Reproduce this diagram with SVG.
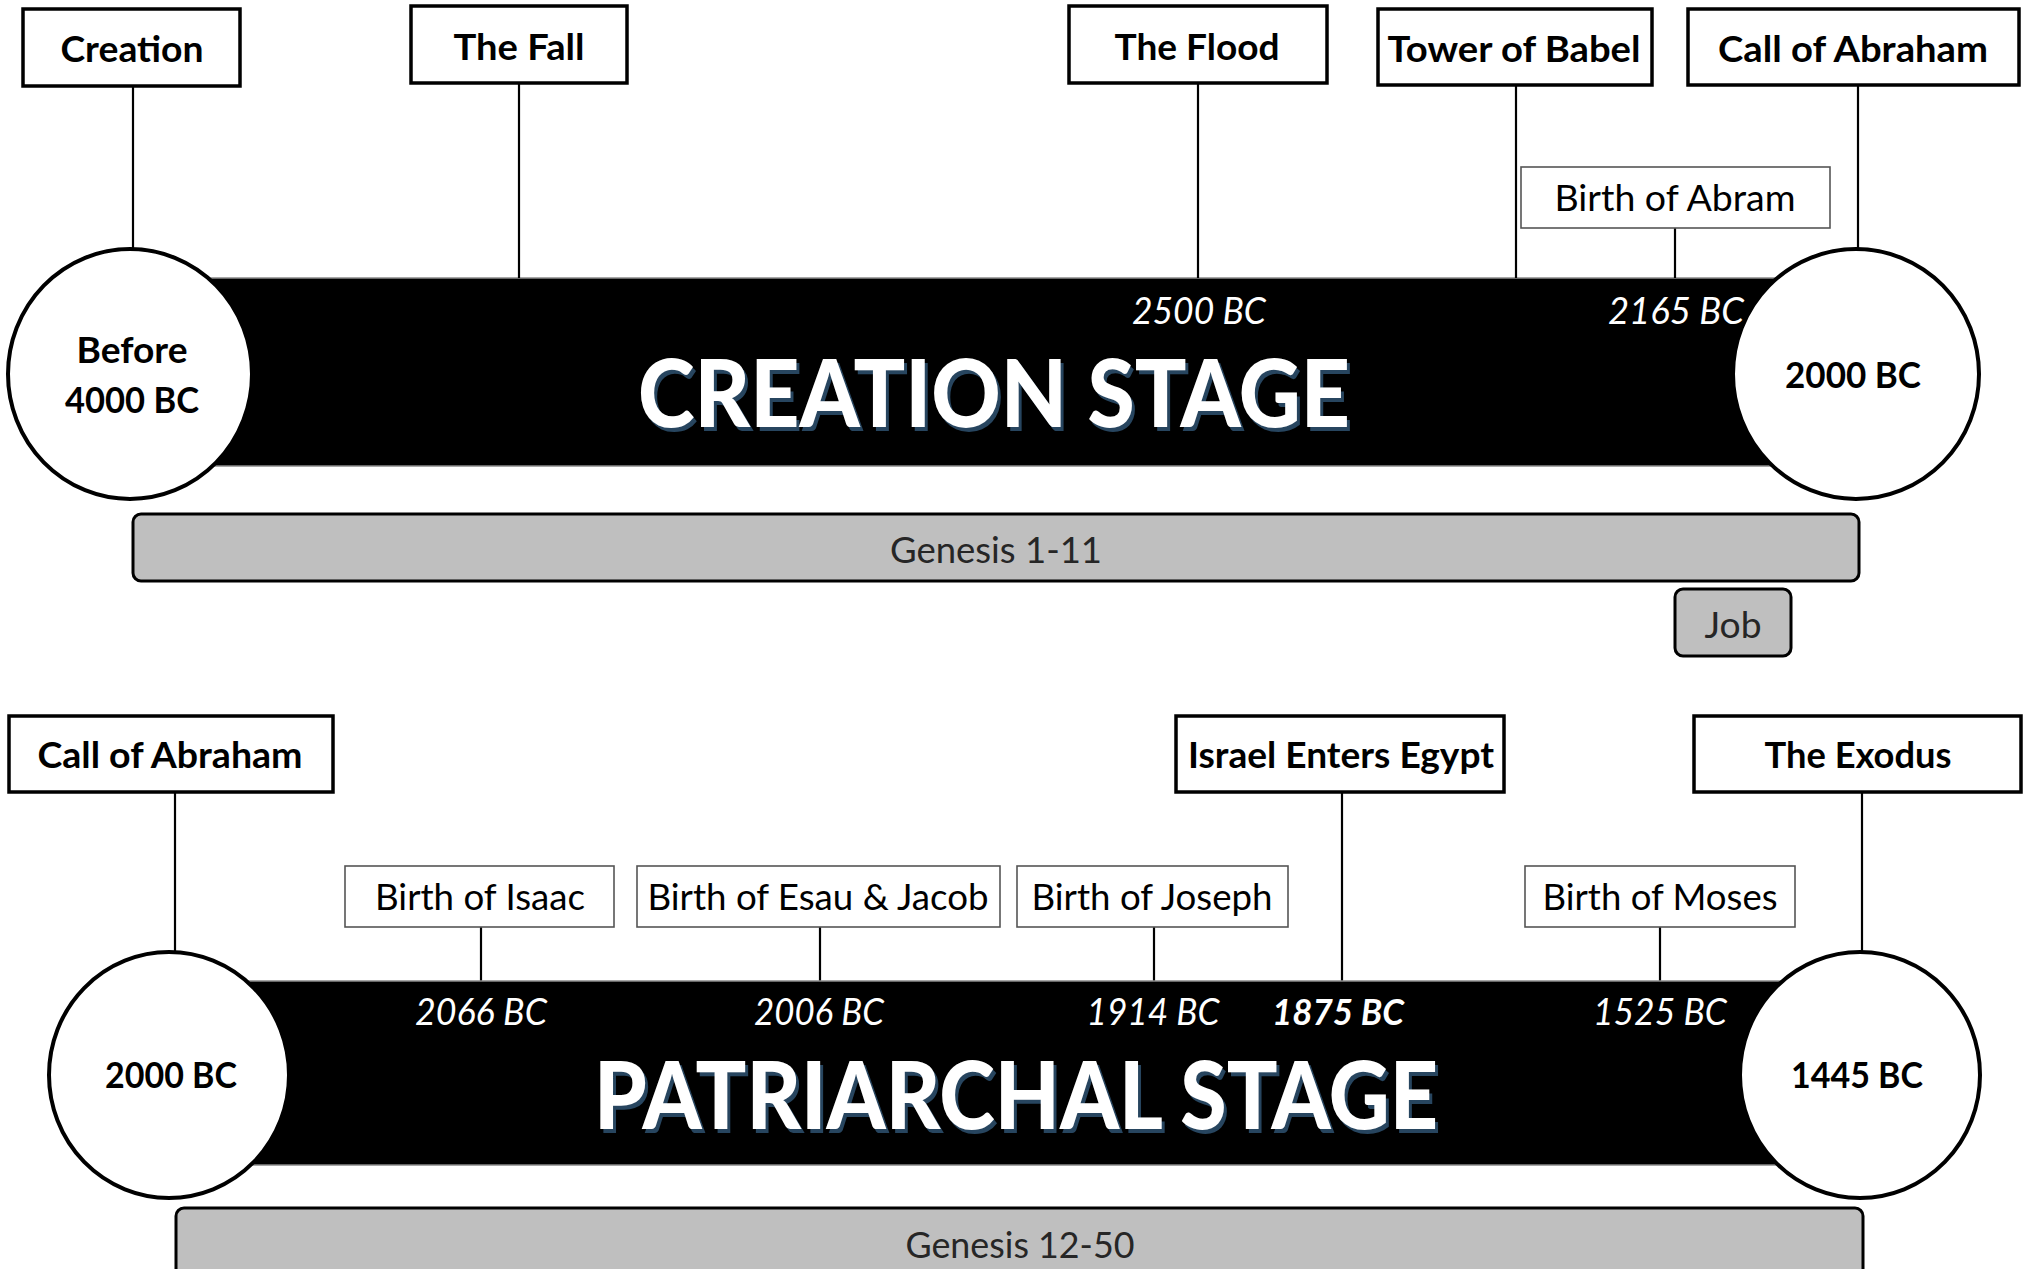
<svg xmlns="http://www.w3.org/2000/svg" width="2025" height="1269" viewBox="0 0 2025 1269">
<style>
.box{fill:#fff;stroke:#000;stroke-width:3.5}
.tbox{fill:#fff;stroke:#555;stroke-width:1.6}
.circ{fill:#fff;stroke:#000;stroke-width:4}
.bar{fill:#000;stroke:#8a8a8a;stroke-width:1.5}
.gbar{fill:#bfbfbf;stroke:#000;stroke-width:3}
.conn line{stroke:#000;stroke-width:2.2}
text{font-family:Lato,"Liberation Sans",sans-serif;text-anchor:middle;font-size:36px}
.lb{font-weight:bold;fill:#000}
.lr{font-weight:normal;fill:#000}
.gt{font-weight:normal;fill:#262626}
.dt{font-style:italic;fill:#fff}
.dtb{font-style:italic;font-weight:bold;fill:#fff}
.title{font-size:93px;font-weight:900;fill:#fff}
.shadow{font-size:93px;font-weight:900;fill:#27455f}
</style>

<!-- ===== Top: Creation stage ===== -->
<g id="creation-bar">
<rect class="bar" x="130" y="278" width="1726" height="188"/>
<text class="shadow" x="997" y="431" textLength="712" lengthAdjust="spacingAndGlyphs">CREATION STAGE</text>
<text class="title" x="994" y="427" textLength="712" lengthAdjust="spacingAndGlyphs">CREATION STAGE</text>
<text class="dt" x="1199" y="324" textLength="134" lengthAdjust="spacingAndGlyphs">2500 BC</text>
<text class="dt" x="1676" y="324" textLength="136" lengthAdjust="spacingAndGlyphs">2165 BC</text>
</g>

<g class="conn" id="connectors">
<line x1="133" y1="86" x2="133" y2="249"/>
<line x1="519" y1="83" x2="519" y2="278"/>
<line x1="1198" y1="83" x2="1198" y2="278"/>
<line x1="1516" y1="85" x2="1516" y2="278"/>
<line x1="1675" y1="228" x2="1675" y2="278"/>
<line x1="1858" y1="85" x2="1858" y2="250"/>
<line x1="175" y1="792" x2="175" y2="953"/>
<line x1="481" y1="927" x2="481" y2="981"/>
<line x1="820" y1="927" x2="820" y2="981"/>
<line x1="1154" y1="927" x2="1154" y2="981"/>
<line x1="1342" y1="792" x2="1342" y2="981"/>
<line x1="1660" y1="927" x2="1660" y2="981"/>
<line x1="1862" y1="792" x2="1862" y2="953"/>
</g>

<g id="circle-before-4000">
<ellipse class="circ" cx="130" cy="374" rx="122" ry="125"/>
<text class="lb" x="132" y="363" textLength="111" lengthAdjust="spacingAndGlyphs">Before</text>
<text class="lb" x="132" y="413" textLength="134" lengthAdjust="spacingAndGlyphs">4000 BC</text>
</g>
<g id="circle-2000-top">
<ellipse class="circ" cx="1856" cy="374" rx="123" ry="125"/>
<text class="lb" x="1853" y="388" textLength="136" lengthAdjust="spacingAndGlyphs">2000 BC</text>
</g>

<g id="node-creation">
<rect class="box" x="23" y="9" width="217" height="77"/>
<text class="lb" x="132" y="62" textLength="143" lengthAdjust="spacingAndGlyphs">Creation</text>
</g>
<g id="node-fall">
<rect class="box" x="411" y="6" width="216" height="77"/>
<text class="lb" x="519" y="60" textLength="131" lengthAdjust="spacingAndGlyphs">The Fall</text>
</g>
<g id="node-flood">
<rect class="box" x="1069" y="6" width="258" height="77"/>
<text class="lb" x="1197" y="60" textLength="165" lengthAdjust="spacingAndGlyphs">The Flood</text>
</g>
<g id="node-babel">
<rect class="box" x="1378" y="9" width="274" height="76"/>
<text class="lb" x="1514" y="62" textLength="253" lengthAdjust="spacingAndGlyphs">Tower of Babel</text>
</g>
<g id="node-call-top">
<rect class="box" x="1688" y="9" width="331" height="76"/>
<text class="lb" x="1853" y="62" textLength="270" lengthAdjust="spacingAndGlyphs">Call of Abraham</text>
</g>
<g id="node-abram">
<rect class="tbox" x="1521" y="167" width="309" height="61"/>
<text class="lr" x="1675" y="211" textLength="241" lengthAdjust="spacingAndGlyphs">Birth of Abram</text>
</g>

<g id="genesis-1-11">
<rect class="gbar" x="133" y="514" width="1726" height="67" rx="8"/>
<text class="gt" x="996" y="563" textLength="212" lengthAdjust="spacingAndGlyphs">Genesis 1-11</text>
</g>
<g id="job">
<rect class="gbar" x="1675" y="589" width="116" height="67" rx="8"/>
<text class="gt" x="1733" y="638" textLength="57" lengthAdjust="spacingAndGlyphs">Job</text>
</g>

<!-- ===== Bottom: Patriarchal stage ===== -->
<g id="patriarchal-bar">
<rect class="bar" x="169" y="981" width="1691" height="184"/>
<text class="shadow" x="1019" y="1133" textLength="844" lengthAdjust="spacingAndGlyphs">PATRIARCHAL STAGE</text>
<text class="title" x="1016" y="1129" textLength="844" lengthAdjust="spacingAndGlyphs">PATRIARCHAL STAGE</text>
<text class="dt" x="481" y="1025" textLength="132" lengthAdjust="spacingAndGlyphs">2066 BC</text>
<text class="dt" x="819" y="1025" textLength="130" lengthAdjust="spacingAndGlyphs">2006 BC</text>
<text class="dt" x="1153" y="1025" textLength="133" lengthAdjust="spacingAndGlyphs">1914 BC</text>
<text class="dtb" x="1338" y="1025" textLength="132" lengthAdjust="spacingAndGlyphs">1875 BC</text>
<text class="dt" x="1660" y="1025" textLength="134" lengthAdjust="spacingAndGlyphs">1525 BC</text>
</g>

<g id="circle-2000-bottom">
<ellipse class="circ" cx="169" cy="1075" rx="120" ry="123"/>
<text class="lb" x="171" y="1088" textLength="132" lengthAdjust="spacingAndGlyphs">2000 BC</text>
</g>
<g id="circle-1445">
<ellipse class="circ" cx="1860" cy="1075" rx="120" ry="123"/>
<text class="lb" x="1857" y="1088" textLength="132" lengthAdjust="spacingAndGlyphs">1445 BC</text>
</g>

<g id="node-call-bottom">
<rect class="box" x="9" y="716" width="324" height="76"/>
<text class="lb" x="170" y="768" textLength="265" lengthAdjust="spacingAndGlyphs">Call of Abraham</text>
</g>
<g id="node-israel-egypt">
<rect class="box" x="1176" y="716" width="328" height="76"/>
<text class="lb" x="1341" y="768" textLength="306" lengthAdjust="spacingAndGlyphs">Israel Enters Egypt</text>
</g>
<g id="node-exodus">
<rect class="box" x="1694" y="716" width="327" height="76"/>
<text class="lb" x="1858" y="768" textLength="187" lengthAdjust="spacingAndGlyphs">The Exodus</text>
</g>
<g id="node-isaac">
<rect class="tbox" x="345" y="866" width="269" height="61"/>
<text class="lr" x="480" y="910" textLength="210" lengthAdjust="spacingAndGlyphs">Birth of Isaac</text>
</g>
<g id="node-esau-jacob">
<rect class="tbox" x="637" y="866" width="363" height="61"/>
<text class="lr" x="818" y="910" textLength="341" lengthAdjust="spacingAndGlyphs">Birth of Esau &amp; Jacob</text>
</g>
<g id="node-joseph">
<rect class="tbox" x="1017" y="866" width="271" height="61"/>
<text class="lr" x="1152" y="910" textLength="241" lengthAdjust="spacingAndGlyphs">Birth of Joseph</text>
</g>
<g id="node-moses">
<rect class="tbox" x="1525" y="866" width="270" height="61"/>
<text class="lr" x="1660" y="910" textLength="235" lengthAdjust="spacingAndGlyphs">Birth of Moses</text>
</g>

<g id="genesis-12-50">
<rect class="gbar" x="176" y="1208" width="1687" height="90" rx="8"/>
<text class="gt" x="1020" y="1258" textLength="229" lengthAdjust="spacingAndGlyphs">Genesis 12-50</text>
</g>
</svg>
